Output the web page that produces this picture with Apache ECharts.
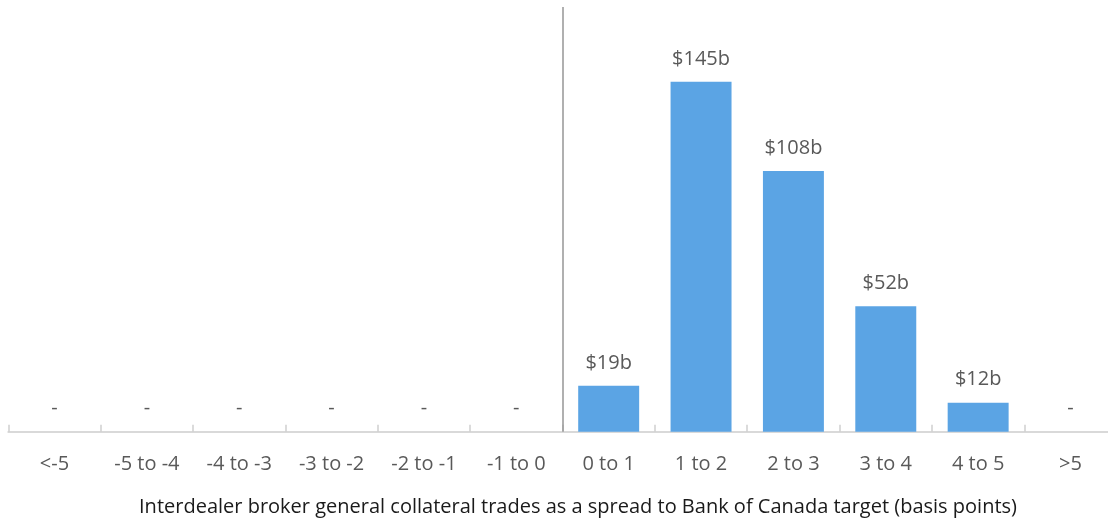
<!DOCTYPE html>
<html>
<head>
<meta charset="utf-8">
<script src="https://cdn.jsdelivr.net/npm/echarts@6/dist/echarts.min.js"></script>
<style>
html,body{margin:0;padding:0;background:#fff;}
#chart{width:1108px;height:519px;}
</style>
</head>
<body>
<div id="chart"></div>
<script>
const categories = ['<-5','-5 to -4','-4 to -3','-3 to -2','-2 to -1','-1 to 0','0 to 1','1 to 2','2 to 3','3 to 4','4 to 5','>5'];
const values = [0,0,0,0,0,0,19,145,108,52,12,0];
const dividerAt = [6];
const axisTitle = 'Interdealer broker general collateral trades as a spread to Bank of Canada target (basis points)';

const chart = echarts.init(document.getElementById('chart'), null, {renderer:'canvas'});
const font = 'Open Sans';
chart.setOption({
  animation:false,
  grid:{left:8.3, top:7, width:1108.4, height:424.7, containLabel:false, outerBoundsMode:'none'},
  xAxis:[{
    type:'category', data:categories,
    axisLine:{lineStyle:{color:'#d9d9d9', width:2}},
    axisTick:{show:true, inside:true, length:7, lineStyle:{color:'#cfcfcf', width:1.5}},
    axisLabel:{color:'#595959', fontSize:20, fontFamily:font, margin:23},
    name:axisTitle, nameLocation:'middle', nameGap:66,
    nameTextStyle:{color:'#1a1a1a', fontSize:20, fontFamily:font, padding:[0,0,0,31]}
  },{
    type:'value', min:0, max:12, show:false
  }],
  yAxis:{type:'value', min:0, max:176, show:false, splitLine:{show:false}},
  series:[{
    type:'bar', data:values, barCategoryGap:'34%',
    itemStyle:{color:'#5ba4e4'},
    label:{show:true, position:'top', distance:13, color:'#595959', fontSize:20, fontFamily:font,
      formatter:p => p.value === 0 ? '-' : '$' + p.value + 'b'}
  },{
    type:'line', xAxisIndex:1, data:[], silent:true,
    markLine:{symbol:'none', silent:true, label:{show:false},
      lineStyle:{color:'#969696', width:1.5, type:'solid'},
      data:dividerAt.map(v => ({xAxis:v}))}
  }]
});
</script>
</body>
</html>
